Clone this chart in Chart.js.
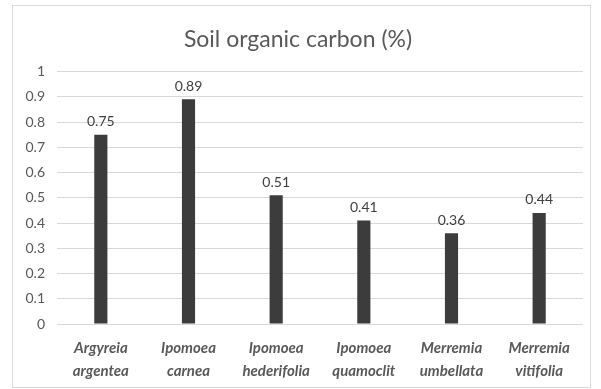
<!DOCTYPE html>
<html>
<head>
<meta charset="utf-8">
<script src="https://cdn.jsdelivr.net/npm/chart.js@4/dist/chart.umd.min.js"></script>
<style>
  html, body { margin: 0; padding: 0; background: #fff; }
  #frame {
    position: absolute;
    left: 12px; top: 5px;
    width: 577px; height: 381px;
    border: 1px solid #d9d9d9;
  }
  #frame canvas { display: block; }
</style>
</head>
<body>
<div id="frame"><canvas id="soc" width="577" height="381"></canvas></div>
<script>
// species names (two lines each) and soil organic carbon values
const species = [
  ["Argyreia", "argentea"],
  ["Ipomoea", "carnea"],
  ["Ipomoea", "hederifolia"],
  ["Ipomoea", "quamoclit"],
  ["Merremia", "umbellata"],
  ["Merremia", "vitifolia"]
];
const carbon = [0.75, 0.89, 0.51, 0.41, 0.36, 0.44];
const yTicks = [0, 0.1, 0.2, 0.3, 0.4, 0.5, 0.6, 0.7, 0.8, 0.9, 1];

// ===== value labels over each bar =====
const valueLabels = {
  id: "valueLabels",
  afterDatasetsDraw(chart) {
    const ctx = chart.ctx;
    const meta = chart.getDatasetMeta(0);
    ctx.save();
    ctx.font = "14px Lato";
    ctx.fillStyle = "#404040";
    ctx.textAlign = "center";
    ctx.textBaseline = "bottom";
    meta.data.forEach((bar, i) => {
      ctx.fillText(carbon[i].toFixed(2), bar.x, bar.y - 6);
    });
    ctx.restore();
  }
};

new Chart(document.getElementById("soc"), {
  type: "bar",
  data: {
    labels: species,
    datasets: [{
      data: carbon,
      backgroundColor: "#3c3c3c",
      barPercentage: 0.15,
      categoryPercentage: 1
    }]
  },
  options: {
    responsive: false,
    animation: false,
    layout: { padding: { left: 0, right: 7, top: 0, bottom: 0 } },
    plugins: {
      legend: { display: false },
      tooltip: { enabled: false },
      title: {
        display: true,
        text: "Soil organic carbon (%)",
        color: "#595959",
        font: { family: "Lato", size: 23, weight: "normal" },
        padding: { top: 20, bottom: 18 }
      }
    },
    scales: {
      x: {
        grid: { display: false, drawTicks: false },
        border: { display: false },
        ticks: {
          color: "#595959",
          font: { family: "Lato", size: 15, weight: "bold", style: "italic", lineHeight: 1.5 },
          padding: 13,
          maxRotation: 0
        },
        afterFit: (s) => { s.height = 63; }
      },
      y: {
        min: 0,
        max: 1,
        afterBuildTicks: (s) => { s.ticks = yTicks.map((v) => ({ value: v })); },
        grid: { color: "#d9d9d9", drawTicks: false },
        border: { display: false },
        ticks: {
          color: "#595959",
          font: { family: "Lato", size: 14 },
          padding: 12,
          callback: (v) => String(Math.round(v * 10) / 10)
        },
        afterFit: (s) => { s.width = 44; }
      }
    }
  },
  plugins: [valueLabels]
});
</script>
</body>
</html>
